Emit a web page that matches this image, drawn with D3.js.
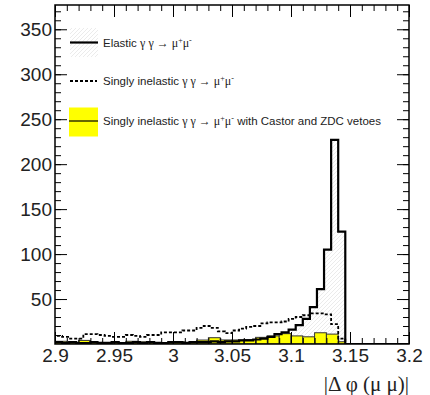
<!DOCTYPE html>
<html>
<head>
<meta charset="utf-8">
<script src="https://cdn.jsdelivr.net/npm/d3@7"></script>
<style>
  html, body { margin: 0; padding: 0; background: #fff; }
  svg { display: block; }
</style>
</head>
<body>
<svg id="chart" width="430" height="395"></svg>
<script>
// ---------------- data ----------------
// fine binning (width 0.006) for elastic and singly-inelastic histograms
const binStart = 2.9;
const binWidth = 0.006;
const elastic = [2,1,2,1,1,2,1,1,2,1,1,2,1,2,1,1,2,2,1,2,2,2,3,2,3,
                 3,4,4,5,6,8,11,13,16,21,28,41,61,105,227,125,
                 0,0,0,0,0,0,0,0,0];
const singly  = [9,8,6,6,11,11,10,9,8,8,10,9,8,10,10,13,13,13,15,15,18,20,18,14,12,
                 15,17,19,20,23,24,24,25,28,30,32,34,34,33,22,6,
                 0,0,0,0,0,0,0,0,0];
// coarse binning for the vetoed sample
const vetoEdges = [2.9,2.91,2.92,2.93,2.94,2.95,2.96,2.97,2.98,2.99,3.0,3.01,3.02,3.03,
                   3.04,3.05,3.06,3.07,3.08,3.09,3.1,3.11,3.12,3.13,3.14,3.146];
const vetoed = [3,1.5,4,2,2,1.5,3,2.5,2,1.5,2.5,2,4.4,7,4.5,4.5,5,7.4,9,11.5,9,8,12.5,11,2.5];

const xTicks = [2.9,2.95,3.0,3.05,3.1,3.15,3.2];
const xTickLabels = ["2.9","2.95","3","3.05","3.1","3.15","3.2"];
const yTicks = [50,100,150,200,250,300,350];
const xDomain = [2.9, 3.2];
const yDomain = [0, 377];

// ---------------- layout ----------------
const svg = d3.select("#chart");
const L = 55, R = 409, T = 5, B = 344;
const x = d3.scaleLinear().domain(xDomain).range([L, R]);
const y = d3.scaleLinear().domain(yDomain).range([B, T]);

// hatch pattern
const defs = svg.append("defs");
const pat = defs.append("pattern").attr("id","hatch").attr("patternUnits","userSpaceOnUse")
  .attr("width",4).attr("height",4);
pat.append("path").attr("d","M-1,1 l2,-2 M0,4 l4,-4 M3,5 l2,-2")
  .attr("stroke","#e2e2e2").attr("stroke-width",0.7);
defs.append("clipPath").attr("id","clip").append("rect")
  .attr("x",L).attr("y",T).attr("width",R-L).attr("height",B-T);

function stepPoints(values, edgesFn) {
  const pts = [[edgesFn(0), 0]];
  values.forEach((v, i) => { pts.push([edgesFn(i), v]); pts.push([edgesFn(i+1), v]); });
  pts.push([edgesFn(values.length), 0]);
  return pts;
}
const fineEdge = i => binStart + i * binWidth;
const line = d3.line().x(d => x(d[0])).y(d => y(d[1]));
const area = d3.area().x(d => x(d[0])).y0(y(0)).y1(d => y(d[1]));

const plot = svg.append("g").attr("clip-path","url(#clip)");

// elastic hatched fill
const elPts = stepPoints(elastic, fineEdge);
plot.append("path").attr("d", area(elPts)).attr("fill","url(#hatch)");

// vetoed yellow bars
plot.selectAll("rect.veto").data(vetoed).join("rect").attr("class","veto")
  .attr("x", (d,i) => x(vetoEdges[i]))
  .attr("width", (d,i) => x(vetoEdges[i+1]) - x(vetoEdges[i]))
  .attr("y", d => y(d))
  .attr("height", d => y(0) - y(d))
  .attr("fill","#ffff00").attr("stroke","#333").attr("stroke-width",1);

// elastic outline
plot.append("path").attr("d", line(elPts)).attr("fill","none")
  .attr("stroke","#000").attr("stroke-width",2.2).attr("stroke-linejoin","miter");

// singly inelastic dashed
plot.append("path").attr("d", line(stepPoints(singly, fineEdge))).attr("fill","none")
  .attr("stroke","#000").attr("stroke-width",1.8).attr("stroke-dasharray","3,2");

// ---------------- axes ----------------
const axisFont = "Liberation Sans, Arial, sans-serif";
const minorY = d3.range(10, 377, 10);
const minorX = d3.range(0, 31).map(i => 2.9 + i * 0.01);

function styleAxis(g) {
  g.select(".domain").remove();
  g.selectAll(".tick line").attr("stroke","#000").attr("stroke-width",1);
}
svg.append("g").attr("transform",`translate(${L},0)`)
  .call(d3.axisLeft(y).tickValues(minorY).tickSize(-6).tickFormat(""))
  .call(styleAxis);
svg.append("g").attr("transform",`translate(${L},0)`)
  .call(d3.axisLeft(y).tickValues(yTicks).tickSize(-12).tickPadding(3).tickFormat(d3.format("d")))
  .call(styleAxis)
  .call(g => g.selectAll("text").attr("font-family",axisFont).attr("font-size",19).attr("fill","#222"));
svg.append("g").attr("transform",`translate(${R},0)`)
  .call(d3.axisRight(y).tickValues(minorY).tickSize(-6).tickFormat(""))
  .call(styleAxis);
svg.append("g").attr("transform",`translate(${R},0)`)
  .call(d3.axisRight(y).tickValues(yTicks).tickSize(-12).tickFormat(""))
  .call(styleAxis);

svg.append("g").attr("transform",`translate(0,${B})`)
  .call(d3.axisBottom(x).tickValues(minorX).tickSize(-6).tickFormat(""))
  .call(styleAxis);
svg.append("g").attr("transform",`translate(0,${B})`)
  .call(d3.axisBottom(x).tickValues(xTicks).tickSize(-12).tickPadding(5)
        .tickFormat((d,i) => xTickLabels[i]))
  .call(styleAxis)
  .call(g => g.selectAll("text").attr("font-family",axisFont).attr("font-size",19).attr("fill","#222"));
svg.append("g").attr("transform",`translate(0,${T})`)
  .call(d3.axisTop(x).tickValues(minorX).tickSize(-6).tickFormat(""))
  .call(styleAxis);
svg.append("g").attr("transform",`translate(0,${T})`)
  .call(d3.axisTop(x).tickValues(xTicks).tickSize(-12).tickFormat(""))
  .call(styleAxis);

// frame
svg.append("rect").attr("x",L).attr("y",T).attr("width",R-L).attr("height",B-T)
  .attr("fill","none").attr("stroke","#000").attr("stroke-width",1.5);

// x title
svg.append("text").attr("x",R).attr("y",391).attr("text-anchor","end")
  .attr("font-family","Liberation Serif, Times New Roman, serif").attr("font-size",21)
  .attr("fill","#222").text("|Δ φ (μ μ)|");

// ---------------- legend ----------------
const legendLabels = ["Elastic ", "Singly inelastic ", "Singly inelastic "];
const legendSuffix = ["", "", " with Castor and ZDC vetoes"];
const legendRowY = [42.5, 81, 121];
const lg = svg.append("g");
// symbols
lg.append("rect").attr("x",70).attr("y",28).attr("width",28).attr("height",29).attr("fill","url(#hatch)");
lg.append("line").attr("x1",70).attr("x2",98).attr("y1",legendRowY[0]).attr("y2",legendRowY[0])
  .attr("stroke","#000").attr("stroke-width",2.2);
lg.append("line").attr("x1",70).attr("x2",97).attr("y1",legendRowY[1]).attr("y2",legendRowY[1])
  .attr("stroke","#000").attr("stroke-width",1.8).attr("stroke-dasharray","3,2");
lg.append("rect").attr("x",69).attr("y",107.5).attr("width",29).attr("height",29).attr("fill","#ffff00");
lg.append("line").attr("x1",69).attr("x2",98).attr("y1",legendRowY[2]).attr("y2",legendRowY[2])
  .attr("stroke","#000").attr("stroke-width",1.2);

legendLabels.forEach((lab, i) => {
  const t = lg.append("text").attr("x",103).attr("y",legendRowY[i] + 4)
    .attr("font-family",axisFont).attr("font-size",11.5).attr("fill","#222");
  t.append("tspan").text(lab);
  const gf = "Liberation Serif, Times New Roman, serif";
  t.append("tspan").attr("font-family",gf).attr("font-size",12).text("γ γ → μ");
  t.append("tspan").attr("font-family",gf).attr("font-size",8).attr("dy",-4).text("+");
  t.append("tspan").attr("font-family",gf).attr("font-size",12).attr("dy",4).text("μ");
  t.append("tspan").attr("font-family",gf).attr("font-size",8).attr("dy",-4).text("-");
  t.append("tspan").attr("dy",4).text(legendSuffix[i]);
});
</script>
</body>
</html>
